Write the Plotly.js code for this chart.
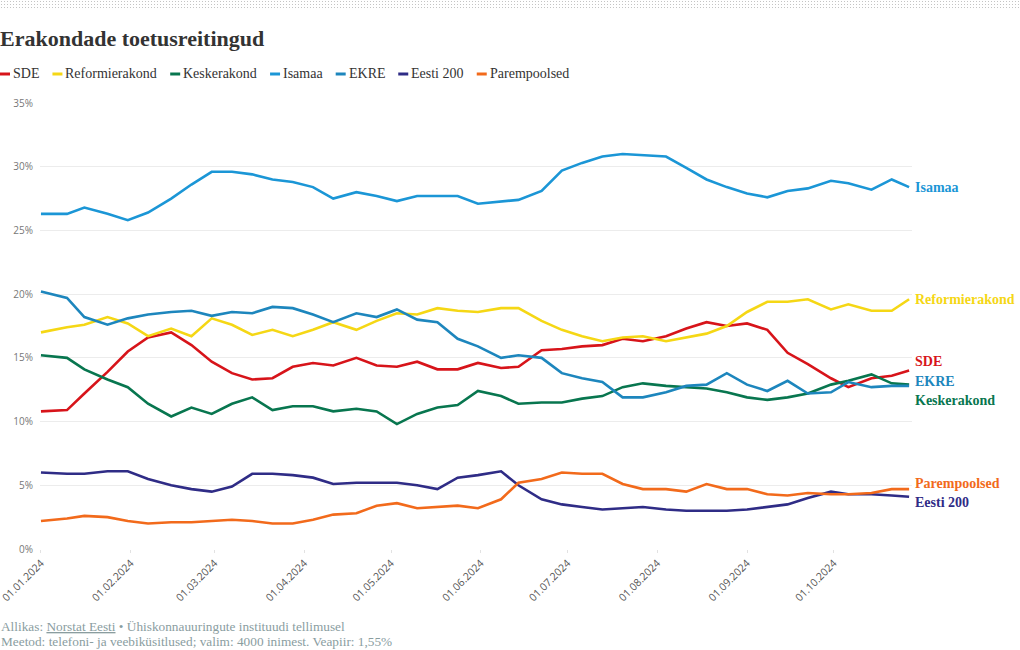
<!DOCTYPE html>
<html>
<head>
<meta charset="utf-8">
<script src="https://cdn.plot.ly/plotly-3.0.1.min.js"></script>
<style>
  html, body { margin: 0; padding: 0; background: #fff; }
  #wrap { position: relative; width: 1020px; height: 650px; }
  #chart { width: 1020px; height: 650px; }
  #dots {
    position: absolute; left: 0; top: 0; width: 1020px; height: 9px;
    background-image: radial-gradient(circle, #c4c4c4 0.75px, transparent 0.9px);
    background-size: 3px 3px;
    pointer-events: none;
  }
</style>
</head>
<body>
<div id="wrap">
  <div id="chart"></div>
  <div id="dots"></div>
</div>
<script>
// ---------- DATA ----------
const dates = [
  "2024-01-01","2024-01-10","2024-01-16","2024-01-24","2024-01-31","2024-02-07","2024-02-15",
  "2024-02-22","2024-02-29","2024-03-07","2024-03-14","2024-03-21","2024-03-28","2024-04-04",
  "2024-04-11","2024-04-19","2024-04-26","2024-05-03","2024-05-10","2024-05-17","2024-05-24",
  "2024-05-31","2024-06-08","2024-06-14","2024-06-22","2024-06-29","2024-07-06","2024-07-13",
  "2024-07-20","2024-07-27","2024-08-04","2024-08-11","2024-08-18","2024-08-25","2024-09-01",
  "2024-09-08","2024-09-15","2024-09-22","2024-09-30","2024-10-06","2024-10-14","2024-10-21",
  "2024-10-27"
];

const partyNames = ["SDE","Reformierakond","Keskerakond","Isamaa","EKRE","Eesti 200","Parempoolsed"];

const sde = [10.8,10.9,12.2,13.9,15.5,16.6,17.0,16.0,14.7,13.8,13.3,13.4,14.3,14.6,14.4,15.0,14.4,14.3,14.7,14.1,14.1,14.6,14.2,14.3,15.6,15.7,15.9,16.0,16.5,16.3,16.7,17.3,17.8,17.5,17.7,17.2,15.4,14.5,13.4,12.7,13.4,13.6,14.0];
const reform = [17.0,17.4,17.6,18.2,17.7,16.7,17.3,16.7,18.1,17.6,16.8,17.2,16.7,17.2,17.8,17.2,17.9,18.5,18.4,18.9,18.7,18.6,18.9,18.9,17.9,17.2,16.7,16.3,16.6,16.7,16.3,16.6,16.9,17.5,18.6,19.4,19.4,19.6,18.8,19.2,18.7,18.7,19.6];
const kesk = [15.2,15.0,14.1,13.3,12.7,11.4,10.4,11.1,10.6,11.4,11.9,10.9,11.2,11.2,10.8,11.0,10.8,9.8,10.6,11.1,11.3,12.4,12.0,11.4,11.5,11.5,11.8,12.0,12.7,13.0,12.8,12.7,12.6,12.3,11.9,11.7,11.9,12.2,12.9,13.2,13.7,13.0,12.9];
const isamaa = [26.3,26.3,26.8,26.3,25.8,26.4,27.5,28.6,29.6,29.6,29.4,29.0,28.8,28.4,27.5,28.0,27.7,27.3,27.7,27.7,27.7,27.1,27.3,27.4,28.1,29.7,30.3,30.8,31.0,30.9,30.8,29.9,29.0,28.4,27.9,27.6,28.1,28.3,28.9,28.7,28.2,29.0,28.4];
const ekre = [20.2,19.7,18.2,17.6,18.1,18.4,18.6,18.7,18.3,18.6,18.5,19.0,18.9,18.4,17.8,18.5,18.2,18.8,18.0,17.8,16.5,15.9,15.0,15.2,15.0,13.8,13.4,13.1,11.9,11.9,12.3,12.8,12.9,13.8,12.9,12.4,13.2,12.2,12.3,13.1,12.7,12.8,12.8];
const eesti200 = [6.0,5.9,5.9,6.1,6.1,5.5,5.0,4.7,4.5,4.9,5.9,5.9,5.8,5.6,5.1,5.2,5.2,5.2,5.0,4.7,5.6,5.8,6.1,5.0,3.9,3.5,3.3,3.1,3.2,3.3,3.1,3.0,3.0,3.0,3.1,3.3,3.5,4.0,4.5,4.3,4.3,4.2,4.1];
const parem = [2.2,2.4,2.6,2.5,2.2,2.0,2.1,2.1,2.2,2.3,2.2,2.0,2.0,2.3,2.7,2.8,3.4,3.6,3.2,3.3,3.4,3.2,3.9,5.2,5.5,6.0,5.9,5.9,5.1,4.7,4.7,4.5,5.1,4.7,4.7,4.3,4.2,4.4,4.3,4.3,4.4,4.7,4.7];

const yTickValues = [0,5,10,15,20,25,30,35];
const yTickLabels = ["0%","5%","10%","15%","20%","25%","30%","35%"];

const titleText = "Erakondade toetusreitingud";
const sourceLine = 'Allikas: <span style="text-decoration:underline">Norstat Eesti</span> • Ühiskonnauuringute instituudi tellimusel';
const methodLine = "Meetod: telefoni- ja veebiküsitlused; valim: 4000 inimest. Veapiir: 1,55%";

// ---------- STYLE ----------
const seriesValues = [sde, reform, kesk, isamaa, ekre, eesti200, parem];
const colors = ["#d7141a","#f5d715","#08764f","#1b96d6","#1d86bd","#2f2c86","#f26a1b"];
const labelShift = [9, 0, -16, 0, 4, -6, 6]; // pixel nudges of end labels
const serif = '"Liberation Serif", "Times New Roman", serif';
const sans = '"Open Sans", Roboto, sans-serif';

const W = 1020, H = 650;
const M = {l: 40, r: 108, t: 103, b: 101};
const PW = W - M.l - M.r, PH = H - M.t - M.b;
const px = x => (x - M.l) / PW;          // pixel -> paper x
const py = y => (H - M.b - y) / PH;      // pixel -> paper y

const traces = partyNames.map((name, i) => ({
  type: "scatter",
  mode: "lines",
  name: name,
  x: dates,
  y: seriesValues[i],
  line: {color: colors[i], width: 2.6, shape: "linear"},
  hoverinfo: "skip",
  showlegend: false
}));

const annotations = [];
const shapes = [];

// end labels
partyNames.forEach((name, i) => {
  const vals = seriesValues[i];
  annotations.push({
    xref: "x", yref: "y",
    x: dates[dates.length - 1], y: vals[vals.length - 1],
    xanchor: "left", yanchor: "middle",
    xshift: 4, yshift: labelShift[i],
    text: "<b>" + name + "</b>",
    showarrow: false,
    font: {family: serif, size: 14, color: colors[i]}
  });
});

// custom legend
const cv = document.createElement("canvas").getContext("2d");
cv.font = '14px "Liberation Serif"';
let lx = 0;
const legendY = 74;
partyNames.forEach((name, i) => {
  shapes.push({
    type: "line", xref: "paper", yref: "paper",
    x0: px(lx), x1: px(lx + 10), y0: py(legendY), y1: py(legendY),
    line: {color: colors[i], width: 3}
  });
  annotations.push({
    xref: "paper", yref: "paper",
    x: px(lx + 12), y: py(legendY),
    xanchor: "left", yanchor: "middle",
    text: name, showarrow: false, borderpad: 0,
    font: {family: serif, size: 14, color: "#333"}
  });
  lx += 12 + cv.measureText(name).width + 14;
});

// footer
annotations.push({
  xref: "paper", yref: "paper", x: px(0), y: py(626),
  xanchor: "left", yanchor: "middle", showarrow: false, borderpad: 0,
  text: sourceLine, font: {family: serif, size: 13.3, color: "#8a9d9f"}
});
annotations.push({
  xref: "paper", yref: "paper", x: px(0), y: py(641),
  xanchor: "left", yanchor: "middle", showarrow: false, borderpad: 0,
  text: methodLine, font: {family: serif, size: 13.3, color: "#8a9d9f"}
});

const layout = {
  width: W, height: H,
  margin: M,
  paper_bgcolor: "#fff",
  plot_bgcolor: "#fff",
  showlegend: false,
  title: {
    text: titleText,
    xref: "container", yref: "container",
    x: 0, xanchor: "left",
    y: 1 - 38 / H, yanchor: "middle",
    font: {family: serif, size: 22, color: "#333", weight: 700}
  },
  xaxis: {
    type: "date",
    range: ["2023-12-31 16:00", "2024-10-28 00:00"],
    tick0: "2024-01-01",
    dtick: "M1",
    tickformat: "%d.%m.%Y",
    tickangle: -45,
    ticklabeloverflow: "allow",
    showgrid: false,
    zeroline: false,
    showline: false,
    ticks: "outside",
    ticklen: 3,
    tickcolor: "#e2e2e2",
    tickfont: {family: sans, size: 10.5, color: "#555"}
  },
  yaxis: {
    range: [0, 35],
    tickmode: "array",
    tickvals: yTickValues,
    ticktext: yTickLabels,
    showgrid: true,
    gridcolor: "#ececec",
    gridwidth: 1,
    zeroline: false,
    showline: false,
    ticks: "",
    ticklabelstandoff: 6,
    tickfont: {family: sans, size: 10, color: "#777"}
  },
  shapes: shapes,
  annotations: annotations
};

Plotly.newPlot("chart", traces, layout, {staticPlot: true, displayModeBar: false});
</script>
</body>
</html>
